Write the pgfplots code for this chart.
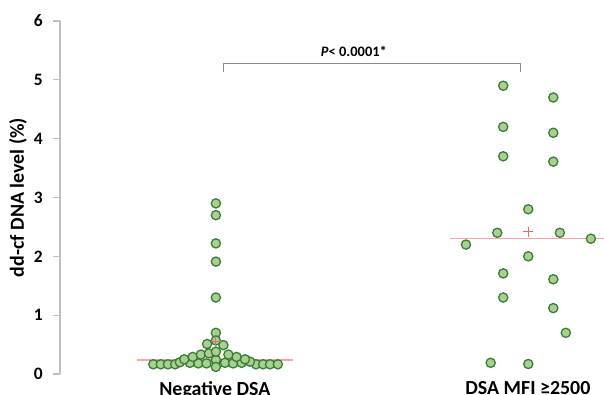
\documentclass[border=0pt]{standalone}
\usepackage{fontspec}
\setmainfont{Carlito}
\usepackage{pgfplots}
\pgfplotsset{compat=1.18}
\definecolor{ptfill}{HTML}{A9D18E}
\definecolor{ptedge}{HTML}{3A7D3A}
\definecolor{axgray}{HTML}{BFBFBF}
\definecolor{medline}{HTML}{F4A6A6}
\definecolor{meanred}{HTML}{E8696B}
\definecolor{brgray}{HTML}{8C8C8C}
\begin{document}
\begin{tikzpicture}
\begin{axis}[
  at={(60bp,21bp)}, anchor=south west,
  scale only axis, width=544bp, height=353bp,
  xmin=-0.495, xmax=1.243, ymin=0, ymax=6,
  axis lines*=left,
  x axis line style={draw=none},
  y axis line style={draw=axgray, line width=1.2bp},
  ytick={0,1,2,3,4,5,6},
  ytick style={draw=axgray, line width=1.2bp},
  tick align=outside, major tick length=7bp,
  xtick={0,1}, xticklabels={Negative DSA, DSA MFI ≥2500},
  xtick style={draw=none},
  yticklabel style={font=\fontsize{17.5}{20}\selectfont\bfseries, inner sep=0pt, xshift=-10bp},
  xticklabel style={font=\fontsize{20}{22}\selectfont\bfseries, inner sep=0pt, yshift=0bp},
  /pgf/number format/assume math mode=true,
  ylabel={dd-cf DNA level (\%)},
  every axis y label/.style={at={(axis description cs:0,0.5)}, xshift=-42bp, rotate=90, anchor=center, font=\fontsize{20}{22}\selectfont\bfseries},
  clip=false,
]
\addplot[medline, line width=1.3bp] coordinates {(-0.249,0.24) (0.249,0.24)};
\addplot[medline, line width=1.3bp] coordinates {(0.75,2.30) (1.243,2.30)};
% Negative DSA
\addplot[only marks, mark=*, mark size=4.6bp, mark options={fill=ptfill, draw=ptedge, line width=1.3bp}] table {
x y
0.003 2.90
0.003 2.70
0.003 2.22
0.003 1.91
0.003 1.30
0.003 0.70
0.003 0.57
-0.025 0.51
0.027 0.49
-0.197 0.165
-0.173 0.165
-0.150 0.165
-0.127 0.165
0.131 0.165
0.154 0.165
0.176 0.165
0.201 0.165
-0.112 0.20
0.112 0.21
-0.080 0.19
-0.053 0.18
-0.027 0.18
0.032 0.19
0.058 0.18
0.085 0.19
-0.098 0.25
0.096 0.25
-0.071 0.29
0.069 0.29
-0.045 0.33
0.043 0.33
-0.019 0.35
0.003 0.24
0.003 0.38
0.003 0.12
};
% DSA MFI >= 2500
\addplot[only marks, mark=*, mark size=4.6bp, mark options={fill=ptfill, draw=ptedge, line width=1.3bp}] table {
x y
0.921 4.90
1.081 4.70
0.921 4.20
1.081 4.10
0.921 3.70
1.081 3.61
1.001 2.80
0.902 2.40
1.102 2.40
1.201 2.30
0.802 2.20
1.001 2.00
0.921 1.71
1.081 1.61
0.921 1.30
1.081 1.12
1.121 0.70
0.881 0.19
1.001 0.17
};
\addplot[only marks, mark=+, mark size=5bp, meanred, line width=1bp] coordinates {(0.003,0.55) (1.001,2.42)};
\draw[brgray, line width=1bp] (axis cs:0.027,5.14) -- (axis cs:0.027,5.28) -- (axis cs:0.977,5.28) -- (axis cs:0.977,5.14);
\node[font=\fontsize{14.5}{16}\selectfont\bfseries] at (axis cs:0.444,5.48) {\textit{P}< 0.0001*};
\end{axis}
\pgfresetboundingbox
\useasboundingbox (0,0) rectangle (604bp,395bp);
\end{tikzpicture}
\end{document}
